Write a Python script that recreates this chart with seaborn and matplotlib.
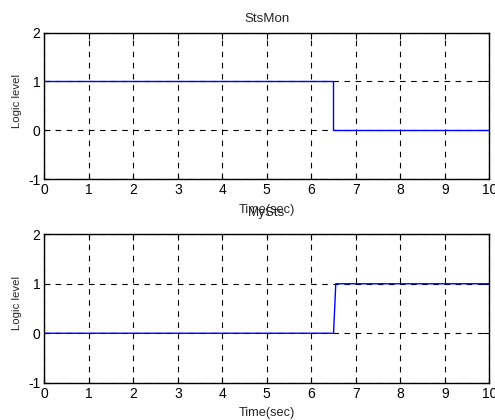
import matplotlib
matplotlib.use("Agg")
import matplotlib.pyplot as plt
import seaborn as sns
import pandas as pd

# Data
time_top = [0, 6.48, 6.48, 10]
level_top = [1, 1, 0, 0]
time_bot = [0, 6.5, 6.55, 10]
level_bot = [0, 0, 1, 1]
titles = ["StsMon", "MySts"]
xticks = list(range(0, 11))
yticks = [-1, 0, 1, 2]

sns.set_theme(style="white")
plt.rcParams['font.family'] = ['Liberation Sans', 'DejaVu Sans']
plt.rcParams['axes.unicode_minus'] = False

fig = plt.figure(figsize=(4.95, 4.2), dpi=100)
W, H = 495, 420
boxes = [(44.3, 32.5, 489.3, 179), (44.3, 234.3, 489.3, 382.7)]
series = [(time_top, level_top), (time_bot, level_bot)]
title_y = [1.074, 1.125]
xlab_y = [-0.171, -0.162]
ylab_y = [0.534, 0.54]

for i, ((x0, y0, x1, y1), (t, v), title) in enumerate(zip(boxes, series, titles)):
    ax = fig.add_axes([x0 / W, 1 - y1 / H, (x1 - x0) / W, (y1 - y0) / H])
    df = pd.DataFrame({"t": t, "v": v})
    sns.lineplot(data=df, x="t", y="v", ax=ax, color=(0, 0, 1), linewidth=1.0,
                 sort=False, estimator=None)
    ax.set_xlim(0, 10)
    ax.set_ylim(-1, 2)
    ax.set_xticks(xticks)
    ax.set_yticks(yticks)
    ax.grid(True, color="black", linestyle=(0, (5, 5)), linewidth=0.8)
    ax.set_axisbelow(True)
    for s in ax.spines.values():
        s.set_color("black")
        s.set_linewidth(1.0)
        s.set_visible(True)
    ax.tick_params(direction="in", length=4, width=0.8, colors="black",
                   labelsize=10, pad=3, top=True, right=True,
                   bottom=True, left=True)
    ax.set_xlabel("Time(sec)", fontsize=9.2)
    ax.xaxis.set_label_coords(0.5, xlab_y[i])
    ax.set_ylabel("Logic level", fontsize=8.2)
    ax.yaxis.set_label_coords(-0.0508, ylab_y[i])
    ax.set_title(title, fontsize=9.6, y=title_y[i], pad=0)

fig.savefig("out.png", dpi=100)
